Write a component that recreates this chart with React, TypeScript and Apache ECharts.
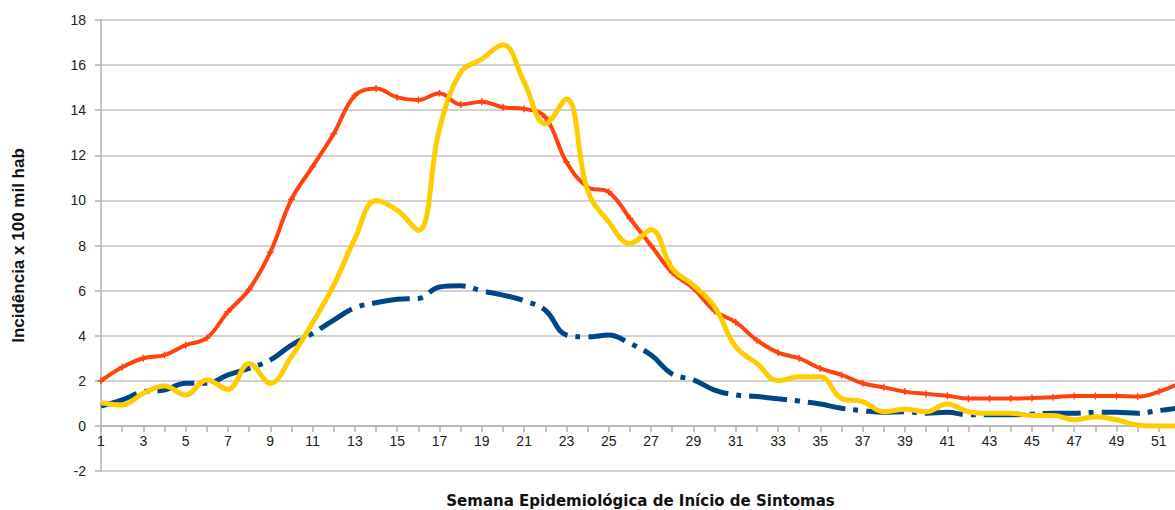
import React, { useEffect, useRef } from "react";
import * as echarts from "echarts";

const weeks: string[] = Array.from({ length: 52 }, (_, i) => String(i + 1));

const redValues: number[] = [
  2.0, 2.6, 3.0, 3.14, 3.58, 3.9, 5.06, 6.05, 7.7, 10.04,
  11.5, 12.96, 14.65, 14.96, 14.57, 14.45, 14.75, 14.25, 14.38, 14.13,
  14.06, 13.69, 11.7, 10.59, 10.37, 9.2, 8.0, 6.8, 6.1, 5.1,
  4.6, 3.8, 3.25, 3.0, 2.55, 2.26, 1.89, 1.71, 1.52, 1.42,
  1.34, 1.21, 1.21, 1.21, 1.24, 1.27, 1.33, 1.33, 1.33, 1.3,
  1.52, 1.9,
];

const yellowValues: number[] = [
  1.03, 0.93, 1.45, 1.77, 1.37, 2.04, 1.62, 2.77, 1.89, 3.07,
  4.57, 6.24, 8.3, 10.0, 9.56, 8.67, 13.17, 15.68, 16.27, 16.9,
  15.24, 13.4, 14.5, 10.44, 9.04, 8.08, 8.7, 6.98, 6.24, 5.28,
  3.51, 2.77, 2.0, 2.18, 2.18, 1.22, 1.08, 0.63, 0.74, 0.63,
  0.97, 0.63, 0.56, 0.56, 0.46, 0.46, 0.27, 0.41, 0.27, 0.04,
  0.0, 0.0,
];

const blueValues: number[] = [
  0.88, 1.15, 1.52, 1.59, 1.89, 1.89, 2.26, 2.55, 2.92, 3.58,
  4.1, 4.69, 5.24, 5.46, 5.62, 5.65, 6.16, 6.21, 5.99, 5.8,
  5.55, 5.13, 4.03, 3.95, 4.03, 3.66, 3.14, 2.3, 2.04, 1.59,
  1.37, 1.3, 1.2, 1.1, 0.97, 0.78, 0.68, 0.6, 0.63, 0.56,
  0.6, 0.49, 0.49, 0.49, 0.52, 0.56, 0.56, 0.6, 0.6, 0.56,
  0.68, 0.8,
];

const yTitle = "Incidência x 100 mil hab";
const xTitle = "Semana Epidemiológica de Início de Sintomas";

const FONT = "'Liberation Sans', Arial, sans-serif";

const GRID_TOP = 20;
const GRID_BOTTOM = 39;
const CHART_H = 510;
const Y_MIN = -2;
const Y_MAX = 18;

export default function App() {
  const ref = useRef<HTMLDivElement>(null);

  useEffect(() => {
    if (!ref.current) return;
    const chart = echarts.init(ref.current, undefined, { renderer: "svg" });
    const plus = "path://M4,0H6V4H10V6H6V10H4V6H0V4H4Z";
    const plotH = CHART_H - GRID_TOP - GRID_BOTTOM;
    const zeroOffset = -(plotH * (0 - Y_MIN)) / (Y_MAX - Y_MIN);
    chart.setOption({
      animation: false,
      backgroundColor: "#ffffff",
      grid: {
        left: 101,
        right: 10,
        top: GRID_TOP,
        bottom: GRID_BOTTOM,
        containLabel: false,
        outerBoundsMode: "none",
      },
      xAxis: {
        type: "category",
        data: weeks,
        boundaryGap: false,
        position: "bottom",
        offset: zeroOffset,
        name: xTitle,
        nameLocation: "middle",
        nameGap: 68,
        nameTextStyle: {
          fontFamily: "'DejaVu Sans', sans-serif",
          fontSize: 15,
          fontWeight: "bold",
          color: "#111",
        },
        axisLine: { show: true, onZero: false, lineStyle: { color: "#b3b3b3", width: 1.5 } },
        axisTick: { show: true, interval: 0, length: 6, lineStyle: { color: "#b3b3b3", width: 1.5 } },
        axisLabel: { interval: 1, fontFamily: FONT, fontSize: 14, color: "#222", margin: 8 },
        splitLine: { show: false },
      },
      yAxis: {
        type: "value",
        min: Y_MIN,
        max: Y_MAX,
        interval: 2,
        name: yTitle,
        nameLocation: "middle",
        nameGap: 74,
        nameRotate: 90,
        nameTextStyle: { fontFamily: FONT, fontSize: 17, fontWeight: "bold", color: "#111" },
        axisLine: { show: true, lineStyle: { color: "#b3b3b3", width: 1.5 } },
        axisTick: { show: true, length: 6, lineStyle: { color: "#b3b3b3", width: 1.5 } },
        axisLabel: { fontFamily: FONT, fontSize: 14, color: "#222", margin: 15 },
        splitLine: { show: true, lineStyle: { color: "#c3c3c3", width: 1.5 } },
      },
      series: [
        {
          name: "Série 3",
          type: "line",
          data: blueValues,
          smooth: 0.4,
          showSymbol: false,
          symbol: "none",
          z: 2,
          lineStyle: { color: "#004586", width: 5, type: [38, 8, 5, 8], cap: "butt" },
          itemStyle: { color: "#004586" },
        },
        {
          name: "Série 1",
          type: "line",
          data: redValues,
          smooth: 0.4,
          symbol: plus,
          symbolSize: 7,
          showSymbol: true,
          z: 3,
          lineStyle: { color: "#ff420e", width: 4 },
          itemStyle: { color: "#ff420e" },
        },
        {
          name: "Série 2",
          type: "line",
          data: yellowValues,
          smooth: 0.4,
          symbol: "none",
          z: 4,
          lineStyle: { color: "#ffcc00", width: 5 },
          itemStyle: { color: "#ffcc00" },
        },
      ],
    });
    return () => chart.dispose();
  }, []);

  return (
    <div
      style={{
        position: "absolute",
        left: 0,
        top: 0,
        width: 1175,
        height: 510,
        overflow: "hidden",
        background: "#fff",
      }}
    >
      <div ref={ref} style={{ width: 1190, height: 510 }} />
    </div>
  );
}
